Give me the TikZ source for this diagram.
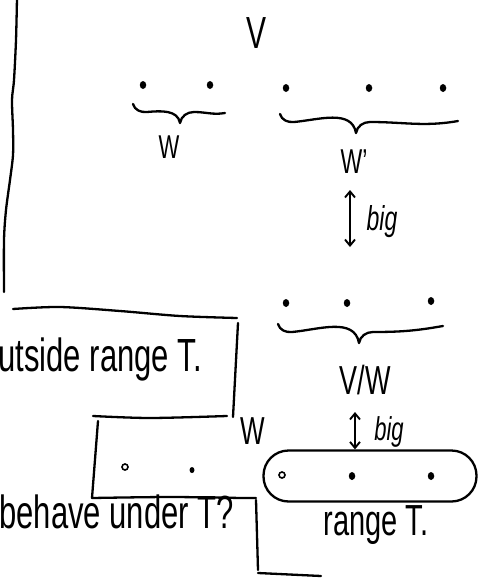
\documentclass[tikz,border=0pt]{standalone}
\usepackage{graphicx}
\usepackage{fontspec}
\setmainfont{Liberation Sans}
\usetikzlibrary{arrows.meta,shapes.geometric}

% handwriting is tall and narrow: stretch letters vertically
\newcommand{\tallhand}[1]{\scalebox{1}[1.5]{#1}}
\newcommand{\fs}[1]{\fontsize{#1}{#1}\selectfont}

% under-brace: left x, right x, tip x, baseline y, right-end rise
\newcommand{\ubrace}[5]{%
  \draw[ink] (#1,#4-8) to[out=-75,in=185] (#1+14,#4)
    to[out=5,in=100] (#3,#4+11)
    (#3,#4+11) to[out=80,in=180] (#3+14,#4)
    to[out=0,in=190] (#2,#4-#5);}

\tikzset{
  ink/.style={line width=2.3pt, line cap=round, line join=round},
  dot/.style={ellipse, fill, inner sep=0pt, minimum width=6.5pt, minimum height=8pt},
  odot/.style={circle, draw, line width=1.6pt, inner sep=0pt, minimum size=6pt},
  lbl/.style={inner sep=0pt},
  dbl/.style={ink, line width=1.9pt, {Straight Barb[length=6pt,width=10pt]}-{Straight Barb[length=6pt,width=10pt]}},
}

\begin{document}
\begin{tikzpicture}[x=1pt,y=-1pt]
\useasboundingbox (0,0) rectangle (486,584);
\clip (0,0) rectangle (486,584);

% long margin line on the left
\draw[ink] plot[smooth] coordinates {(17,-2) (16,40) (14,80) (12,100) (13,130) (13,155) (10,180) (6,210) (4,240) (4,292)};

% upper box: top edge and right edge
\draw[ink] plot[smooth] coordinates {(13,309) (60,307) (120,311) (180,316) (237,318)};
\draw[ink] (238,323) -- (233,417);

% lower box
\draw[ink] plot[smooth] coordinates {(93,416) (150,418) (227,416)};
\draw[ink] (98,421) -- (92,498);
\draw[ink] plot[smooth] coordinates {(92,498) (170,497) (243,498) (256,498)};
\draw[ink] (256,500) -- (258,570);
\draw[ink] (258,573) -- (321,576);

% texts
\node[lbl] (V) at (257,33) {\fs{30}\tallhand{V}};
\node[lbl, anchor=base east] (outside) at (202,371) {\fs{31}\tallhand{outside range T.}};
\node[lbl, anchor=base east] (behave) at (234,528) {\fs{31}\tallhand{behave under T?}};
\node[lbl] (Wbox) at (253,431) {\fs{26}\tallhand{W}};

% subspace W
\node[dot] (w1) at (143,85) {};
\node[dot] (w2) at (210,85) {};
\ubrace{133}{225}{180}{112}{-1}
\node[lbl] (W) at (169,147) {\fs{22}\tallhand{W}};

% complement W'
\node[dot] (u1) at (286,88) {};
\node[dot] (u2) at (369,88) {};
\node[dot] (u3) at (443,88) {};
\ubrace{280}{458}{356}{122}{1}
\node[lbl] (Wp) at (354,162) {\fs{23}\tallhand{W'}};

% bijection W' <-> V/W
\coordinate (a1top) at (350,190);
\coordinate (a1bot) at (350,247);
\draw[dbl] (a1top) -- (a1bot);
\node[lbl] (big1) at (382,222) {\fs{23}\tallhand{\itshape big}};

% quotient V/W
\node[dot] (q1) at (286,303) {};
\node[dot] (q2) at (347,303) {};
\node[dot] (q3) at (431,301) {};
\ubrace{278}{443}{359}{332}{6}
\node[lbl] (VW) at (365,380) {\fs{27}\tallhand{V/W}};

% range T
\node[draw, ink, rounded corners=25pt, minimum width=213pt, minimum height=51pt, inner sep=0pt] (rng) at (370,476) {};
\node[odot] (r1) at (282,475) {};
\node[dot] (r2) at (352,476) {};
\node[dot] (r3) at (431,476) {};
\node[lbl, anchor=base] (rangeT) at (376,535) {\fs{29}\tallhand{range T.}};

% bijection V/W <-> range T
\coordinate (a2top) at (355,412);
\draw[dbl] (a2top) -- (a2top |- rng.north);
\node[lbl] (big2) at (389,432) {\fs{22}\tallhand{\itshape big}};

% points in the lower box
\node[odot] (b1) at (125,467) {};
\node[dot, minimum width=5pt, minimum height=6pt] (b2) at (192,470) {};
\end{tikzpicture}
\end{document}
